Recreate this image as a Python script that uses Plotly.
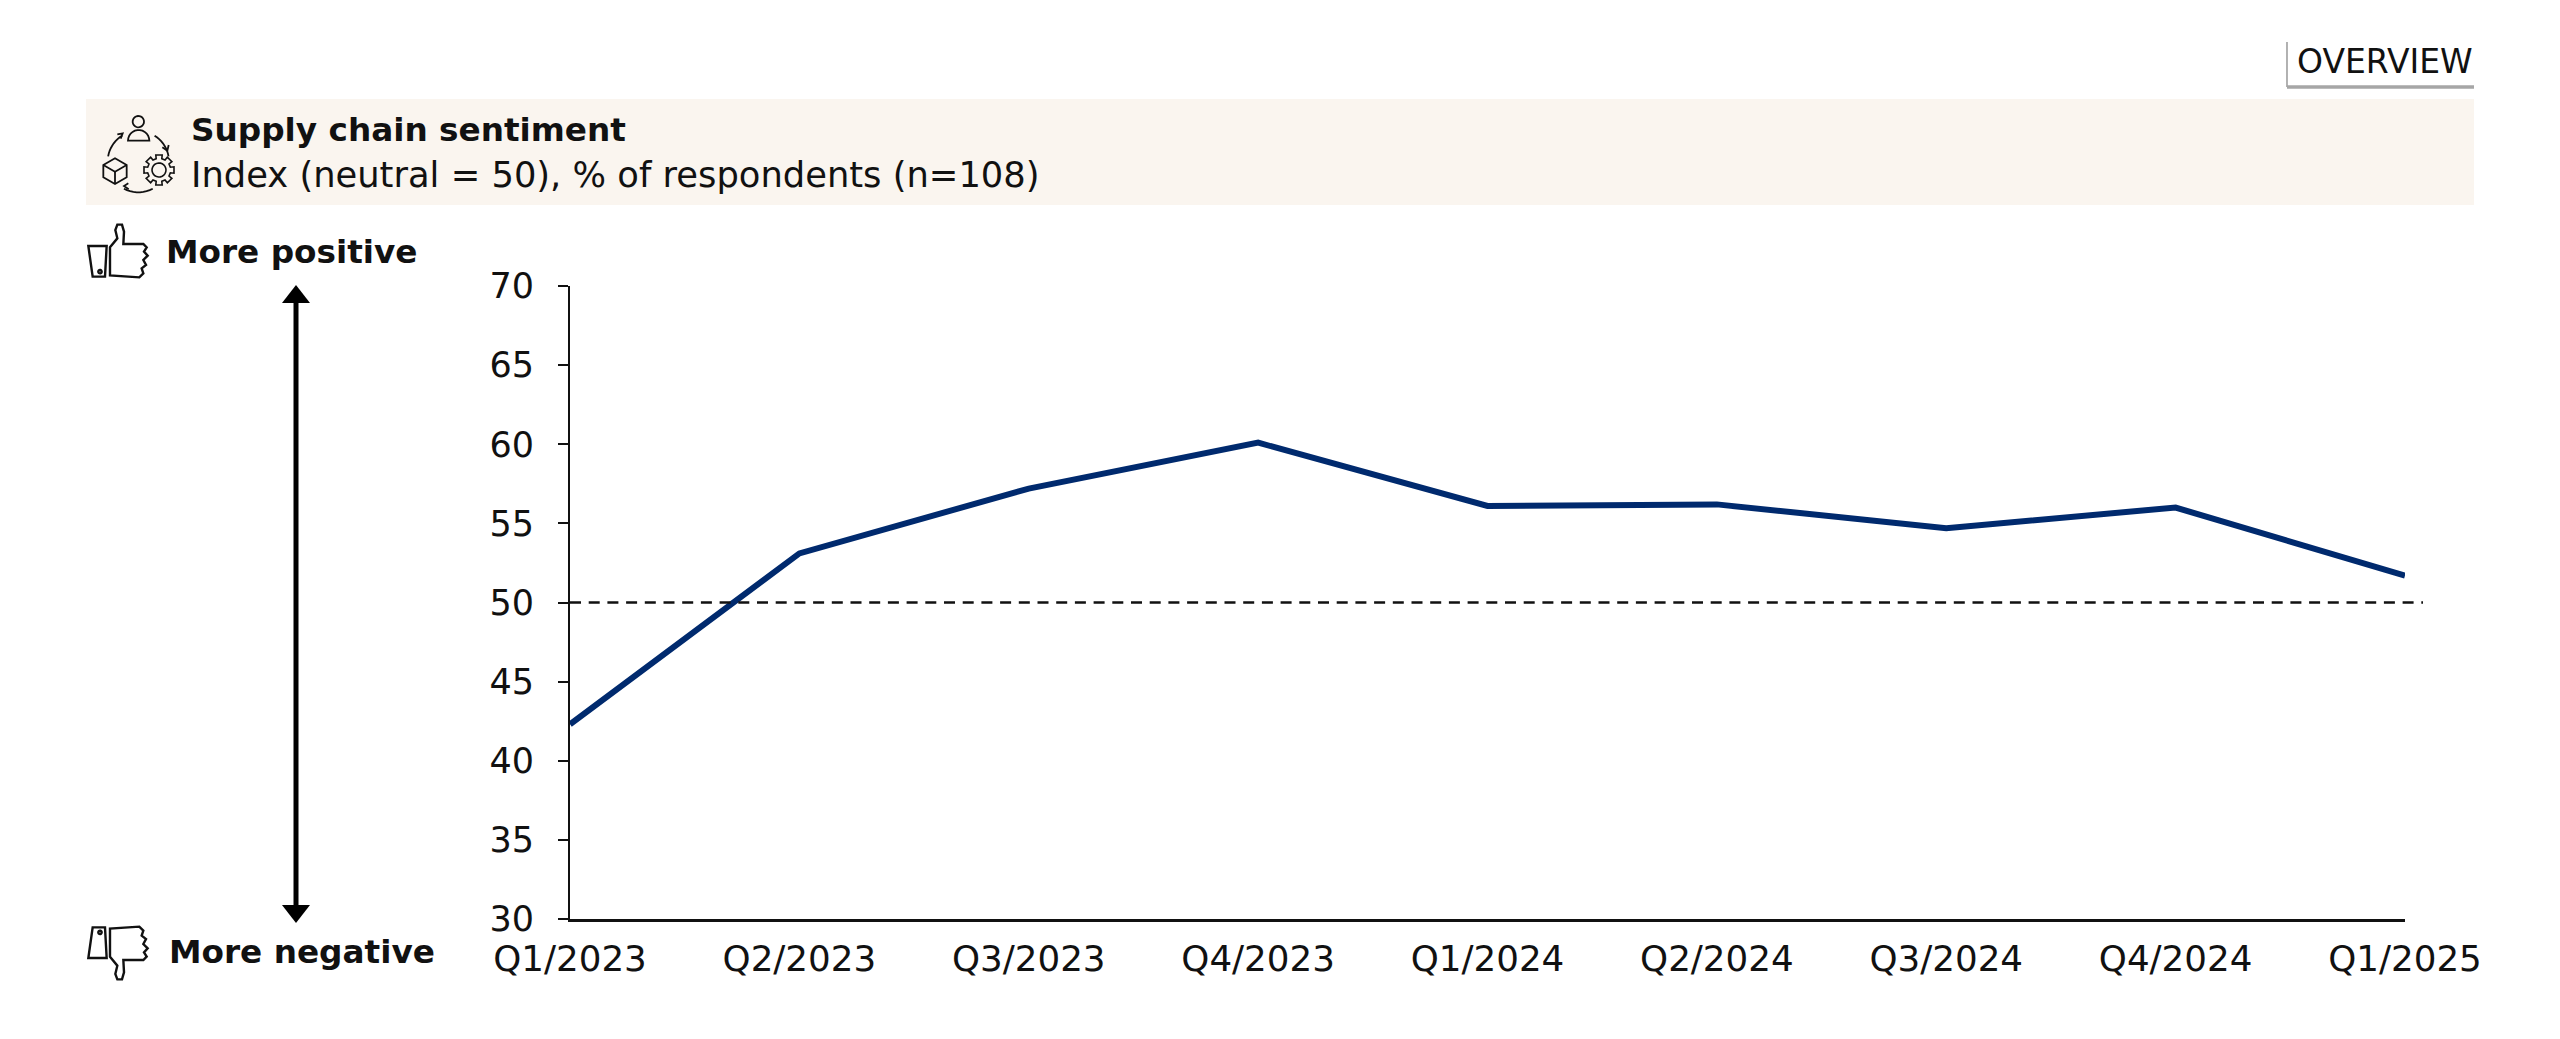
import numpy as np
import plotly.graph_objects as go

W, H = 2560, 1039
BODY = 8
FIG_W, FIG_H = W - 2 * BODY, H - 2 * BODY
FONT = "DejaVu Sans"
quarters = ["Q1/2023", "Q2/2023", "Q3/2023", "Q4/2023", "Q1/2024", "Q2/2024", "Q3/2024", "Q4/2024", "Q1/2025"]
sentiment = [42.3, 53.1, 57.2, 60.1, 56.1, 56.2, 54.7, 56.0, 51.7]
y_ticks = [30, 35, 40, 45, 50, 55, 60, 65, 70]
neutral = 50
NAVY = "#002A6E"

X0, X1, Y_TOP, Y_BOT = 570, 2405, 286, 919


def px(x):
    return (x - BODY) / FIG_W


def py(y):
    return 1 - (y - BODY) / FIG_H


def path(points, close=False):
    s = "M" + " L".join(f"{px(x):.5f},{py(y):.5f}" for x, y in points)
    return s + (" Z" if close else "")


def circle_pts(cx, cy, r, a0=0, a1=360, n=24):
    t = np.radians(np.linspace(a0, a1, n))
    return [(cx + r * np.cos(a), cy + r * np.sin(a)) for a in t]


def zoom(points):
    return [(60 + x / 3, 90 + y / 3) for x, y in points]


def line_shape(points, close=False, width=2.2, fill=None, color="#111"):
    return dict(type="path", xref="paper", yref="paper", path=path(points, close),
                line=dict(color=color, width=width),
                fillcolor=fill if fill else "rgba(0,0,0,0)")


shapes = []
# header band and tab
shapes.append(dict(type="rect", xref="paper", yref="paper", x0=px(86), x1=px(2474), y0=py(205), y1=py(99),
                   fillcolor="#FAF5EF", line=dict(width=0), layer="below"))
shapes.append(line_shape([(2287, 42), (2287, 87)], width=1.5, color="#999"))
shapes.append(line_shape([(2287, 87), (2474, 87)], width=3.5, color="#A6A6A6"))

# neutral line
shapes.append(dict(type="line", xref="paper", yref="y", x0=px(X0), x1=px(2423), y0=neutral, y1=neutral,
                   line=dict(color="#111", width=2.5, dash="11px,7.7px")))

# double arrow
shapes.append(line_shape([(296, 300), (296, 910)], width=5, color="#000"))
shapes.append(line_shape([(296, 285), (310, 303), (282, 303)], close=True, width=0, fill="#000", color="#000"))
shapes.append(line_shape([(296, 923), (310, 905), (282, 905)], close=True, width=0, fill="#000", color="#000"))

# thumbs
cuff = [(85, 468), (140, 468), (135, 560), (98, 560)]
hand = [(150, 472), (172, 445), (166, 420), (172, 404), (186, 404), (192, 425), (190, 462), (250, 462), (260, 472),
        (252, 485), (263, 497), (250, 510), (258, 525), (245, 535), (250, 550), (238, 562), (150, 556)]
dot = circle_pts(120, 545, 5)
up = [zoom(cuff), zoom(hand), zoom(dot)]
for pts in up:
    shapes.append(line_shape(pts, close=True, width=2.4))
for pts in up:
    shapes.append(line_shape([(x, 1204 - y) for x, y in pts], close=True, width=2.4))

# supply-chain icon
shapes.append(line_shape(zoom(circle_pts(235, 95, 17)), close=True, width=1.8))
shapes.append(line_shape(zoom([(204, 152)] + circle_pts(236, 152, 32, 180, 360, 14) + [(268, 152)]), close=True, width=1.8))
shapes.append(line_shape(zoom(circle_pts(235, 215, 92, 190, 238, 10)), width=1.8))
shapes.append(line_shape(zoom([(172, 133), (188, 130), (182, 146)]), width=1.8))
shapes.append(line_shape(zoom(circle_pts(235, 215, 92, 302, 350, 10)), width=1.8))
shapes.append(line_shape(zoom([(307, 172), (322, 182), (326, 165)]), width=1.8))
shapes.append(line_shape(zoom(circle_pts(235, 215, 92, 62, 118, 10)), width=1.8))
shapes.append(line_shape(zoom([(205, 280), (192, 288), (206, 298)]), width=1.8))
box = [(165, 205), (200, 225), (200, 262), (165, 282), (130, 262), (130, 225)]
shapes.append(line_shape(zoom(box), close=True, width=1.8))
shapes.append(line_shape(zoom([(130, 225), (165, 245), (200, 225)]), width=1.8))
shapes.append(line_shape(zoom([(165, 245), (165, 282)]), width=1.8))
gear = []
for i in range(8):
    a = i * 45
    gear += circle_pts(297, 240, 46, a - 12, a + 12, 2) + circle_pts(297, 240, 35, a + 14, a + 31, 2)
shapes.append(line_shape(zoom(gear), close=True, width=1.6))
shapes.append(line_shape(zoom(circle_pts(297, 240, 21)), close=True, width=1.6))


def label(x, y, text, size, weight=400, anchor="left"):
    return dict(xref="paper", yref="paper", x=px(x), y=py(y), text=text, showarrow=False, xanchor=anchor,
                yanchor="middle", font=dict(family=FONT, size=size, color="#111", weight=weight))


annotations = [
    label(2295, 62, "OVERVIEW", 33),
    label(189, 130, "Supply chain sentiment", 32.7, 700),
    label(189, 175, "Index (neutral = 50), % of respondents (n=108)", 35.3),
    label(164, 252, "More positive", 32.7, 700),
    label(167, 952, "More negative", 32.7, 700),
]

fig = go.Figure(go.Scatter(x=list(range(len(quarters))), y=sentiment, mode="lines", cliponaxis=True,
                           line=dict(color=NAVY, width=6), showlegend=False, hoverinfo="skip"))
fig.update_layout(
    width=FIG_W, height=FIG_H, margin=dict(l=0, r=0, t=0, b=0, pad=0), paper_bgcolor="white", plot_bgcolor="white",
    font=dict(family=FONT, size=34, color="#111"), shapes=shapes, annotations=annotations,
    xaxis=dict(domain=[px(X0), px(X1)], range=[0, 8], tickmode="array", tickvals=list(range(len(quarters))),
               ticktext=quarters, showgrid=False, zeroline=False, showline=True, linecolor="#111", linewidth=2.5,
               ticks="", tickfont=dict(size=35.7), automargin=False, ticklabelstandoff=6),
    yaxis=dict(domain=[py(Y_BOT), py(Y_TOP)], range=[30, 70], tickmode="array", tickvals=y_ticks, showgrid=False,
               zeroline=False, showline=True, linecolor="#111", linewidth=2, ticks="outside", ticklen=10, tickwidth=2,
               tickcolor="#111", tickfont=dict(size=35), automargin=False, ticklabelstandoff=17),
)
fig.write_html("out.html")
